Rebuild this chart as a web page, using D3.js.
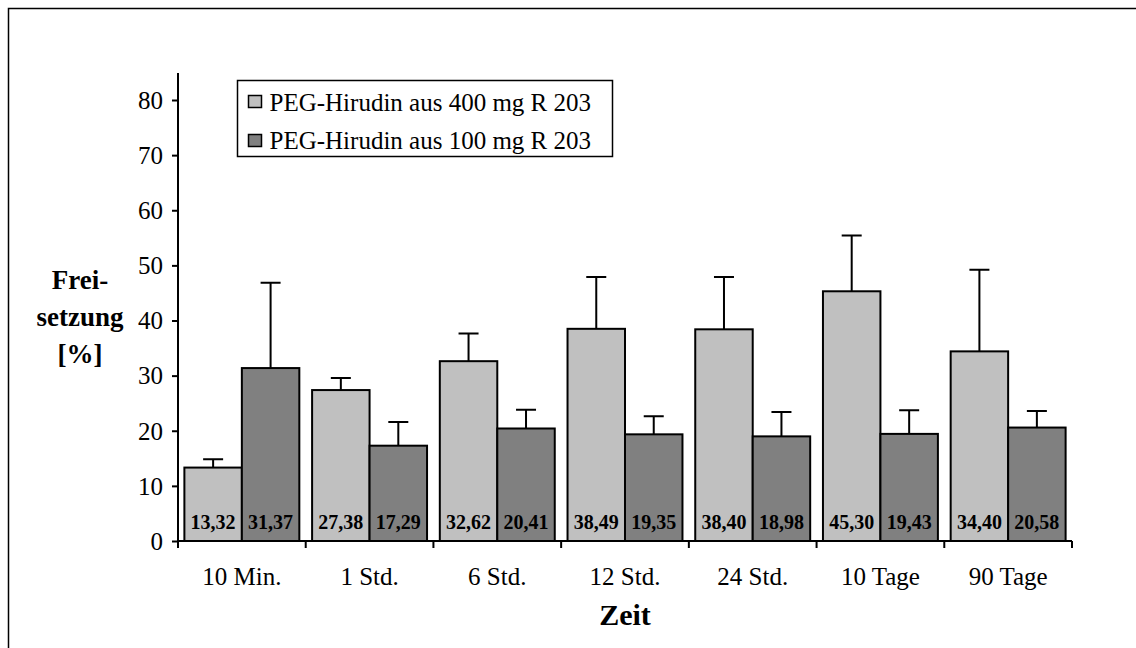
<!DOCTYPE html>
<html>
<head>
<meta charset="utf-8">
<script src="https://cdn.jsdelivr.net/npm/d3@7"></script>
<style>
    body { margin: 0; background: #fff; }
    svg { display: block; font-family: "Liberation Serif", "Times New Roman", serif; }
    text { font-family: "Liberation Serif", "Times New Roman", serif; }
</style>
</head>
<body>
<svg id="chart" width="1136" height="648"></svg>
<script>
// data
var categories = ["10 Min.", "1 Std.", "6 Std.", "12 Std.", "24 Std.", "10 Tage", "90 Tage"];
var seriesNames = ["PEG-Hirudin aus 400 mg R 203", "PEG-Hirudin aus 100 mg R 203"];
var values400 = [13.32, 27.38, 32.62, 38.49, 38.40, 45.30, 34.40];
var values100 = [31.37, 17.29, 20.41, 19.35, 18.98, 19.43, 20.58];
var sd400 = [1.5, 2.2, 5.0, 9.4, 9.5, 10.1, 14.8];
var sd100 = [15.5, 4.3, 3.4, 3.3, 4.4, 4.3, 3.0];
var yTicks = [0, 10, 20, 30, 40, 50, 60, 70, 80];
var colors = ["#c0c0c0", "#808080"];

function fmt(v) {
    return v.toFixed(2).replace(".", ",");
}

const svg = d3.select("#chart");

// outer frame
svg.append("rect")
    .attr("x", 8.5).attr("y", 8.5)
    .attr("width", 1140).attr("height", 660)
    .attr("fill", "none")
    .attr("stroke", "#000")
    .attr("stroke-width", 1.5);

const plotLeft = 178, plotRight = 1072, plotTop = 73, plotBottom = 541;

let x = d3.scaleBand()
    .domain(categories)
    .range([plotLeft, plotRight])
    .paddingInner(0.1)
    .paddingOuter(0.05);

let xSub = d3.scaleBand()
    .domain([0, 1])
    .range([0, x.bandwidth()]);

let y = d3.scaleLinear()
    .domain([0, 80])
    .range([plotBottom, 100]);

// bars
let rows = categories.map((c, i) => ({
    cat: c,
    vals: [values400[i], values100[i]],
    sds: [sd400[i], sd100[i]]
}));

let groups = svg.append("g").selectAll("g")
    .data(rows)
    .join("g")
    .attr("transform", d => "translate(" + x(d.cat) + ",0)");

groups.selectAll("rect")
    .data(d => d.vals.map((v, k) => ({ v: v, k: k, sd: d.sds[k] })))
    .join("rect")
    .attr("x", d => xSub(d.k))
    .attr("y", d => y(d.v))
    .attr("width", xSub.bandwidth())
    .attr("height", d => y(0) - y(d.v))
    .attr("fill", d => colors[d.k])
    .attr("stroke", "#000")
    .attr("stroke-width", 2);

// error bars (upper)
groups.selectAll("path.err")
    .data(d => d.vals.map((v, k) => ({ v: v, k: k, sd: d.sds[k] })))
    .join("path")
    .attr("class", "err")
    .attr("fill", "none")
    .attr("stroke", "#000")
    .attr("stroke-width", 2)
    .attr("d", d => {
        let cx = xSub(d.k) + xSub.bandwidth() / 2;
        let y0 = y(d.v), y1 = y(d.v + d.sd);
        return "M" + cx + "," + y0 + "V" + y1 + "M" + (cx - 10) + "," + y1 + "H" + (cx + 10);
    });

// value labels
groups.selectAll("text.val")
    .data(d => d.vals.map((v, k) => ({ v: v, k: k })))
    .join("text")
    .attr("class", "val")
    .attr("x", d => xSub(d.k) + xSub.bandwidth() / 2)
    .attr("y", plotBottom - 12)
    .attr("text-anchor", "middle")
    .style("font-size", "20px")
    .style("font-weight", "bold")
    .text(d => fmt(d.v));

// y axis
let yAxis = d3.axisLeft(y).tickValues(yTicks).tickSize(6).tickPadding(9).tickSizeOuter(0);
let gy = svg.append("g")
    .attr("transform", "translate(" + plotLeft + ",0)")
    .call(yAxis);
gy.select(".domain").remove();
gy.append("line")
    .attr("x1", 0).attr("x2", 0)
    .attr("y1", plotTop).attr("y2", plotBottom)
    .attr("stroke", "#000").attr("stroke-width", 2);
gy.selectAll(".tick line").attr("stroke-width", 2);
gy.selectAll(".tick text")
    .style("font-size", "25px")
    .style("font-family", "Liberation Serif")
    .attr("dy", "0.33em")
    .attr("fill", "#000");

// x axis
svg.append("line")
    .attr("x1", plotLeft).attr("x2", plotRight)
    .attr("y1", plotBottom).attr("y2", plotBottom)
    .attr("stroke", "#000").attr("stroke-width", 2);
let bounds = d3.range(categories.length + 1).map(i => plotLeft + i * (plotRight - plotLeft) / categories.length);
svg.append("g").selectAll("line")
    .data(bounds)
    .join("line")
    .attr("x1", d => d).attr("x2", d => d)
    .attr("y1", plotBottom).attr("y2", plotBottom + 7)
    .attr("stroke", "#000").attr("stroke-width", 2);

svg.append("g").selectAll("text")
    .data(categories)
    .join("text")
    .attr("x", d => x(d) + x.bandwidth() / 2)
    .attr("y", 585)
    .attr("text-anchor", "middle")
    .style("font-size", "25px")
    .text(d => d);

// axis titles
svg.append("text")
    .attr("x", 625).attr("y", 625)
    .attr("text-anchor", "middle")
    .style("font-size", "30px")
    .style("font-weight", "bold")
    .text("Zeit");

let yLabel = ["Frei-", "setzung", "[%]"];
svg.append("g").selectAll("text")
    .data(yLabel)
    .join("text")
    .attr("x", 80)
    .attr("y", (d, i) => 289 + i * 37)
    .attr("text-anchor", "middle")
    .style("font-size", "27px")
    .style("font-weight", "bold")
    .text(d => d);

// legend
let legend = svg.append("g").attr("transform", "translate(237.5,80.5)");
legend.append("rect")
    .attr("width", 375).attr("height", 76)
    .attr("fill", "#fff")
    .attr("stroke", "#000")
    .attr("stroke-width", 1.5);
seriesNames.forEach((s, i) => {
    legend.append("rect")
        .attr("x", 11).attr("y", 15 + i * 39)
        .attr("width", 13).attr("height", 12)
        .attr("fill", colors[i])
        .attr("stroke", "#000")
        .attr("stroke-width", 1.5);
    legend.append("text")
        .attr("x", 32).attr("y", 30 + i * 38)
        .style("font-size", "25px")
        .text(s);
});
</script>
</body>
</html>
